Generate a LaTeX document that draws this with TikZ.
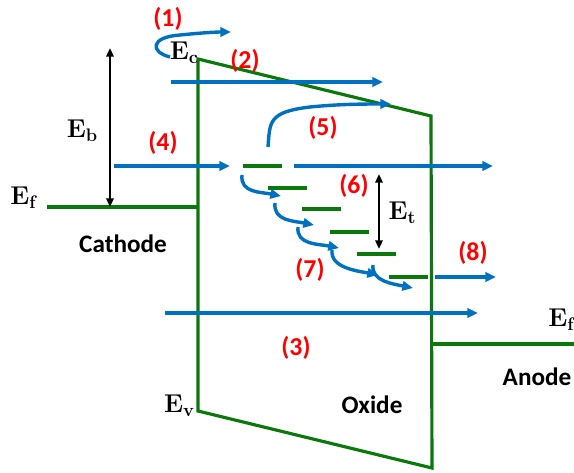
\documentclass[tikz,border=0pt]{standalone}
\usepackage{fontspec}
\newfontfamily\calfont{Carlito}
\usepackage{tikz}
\usetikzlibrary{arrows.meta,positioning}
\definecolor{bandgreen}{RGB}{10,120,10}
\definecolor{flowblue}{RGB}{0,112,192}
\definecolor{numred}{RGB}{255,0,0}
\newcommand{\lvl}[1]{E\raisebox{-3.4pt}{\fontsize{15.5}{18}\selectfont\bfseries #1}}

\begin{document}
\begin{tikzpicture}[
  x=0.03cm, y=-0.03cm,
  band/.style={draw=bandgreen, line width=2.7pt},
  trap/.style={draw=bandgreen, line width=2.7pt},
  flow/.style={draw=flowblue, line width=2.9pt, -{Triangle[length=3.2mm, width=2.8mm]}},
  gap/.style={draw=black, line width=2pt, {Triangle[length=2.6mm, width=2.2mm]}-{Triangle[length=2.6mm, width=2.2mm]}},
  num/.style={text=numred, inner sep=0pt, font=\calfont\fontsize{22}{26}\selectfont\bfseries},
  level/.style={inner sep=0pt, font=\fontsize{22}{26}\selectfont\bfseries},
  region/.style={inner sep=0pt, font=\calfont\fontsize{21.5}{26}\selectfont\bfseries},
]
\useasboundingbox (0,0) rectangle (574,473);

% Band edges
\coordinate (ec) at (198,59);
\coordinate (cr) at (431,116);
\coordinate (vr) at (432,468);
\coordinate (ev) at (198,411);
\coordinate (kf) at (47,207);
\coordinate (kj) at (198,207);
\coordinate (aj) at (431,344);
\coordinate (af) at (574,344);
\draw[band] (kf) -- (kj);
\draw[band] (ec) -- (cr) -- (vr) -- (ev) -- cycle;
\draw[band] (aj) -- (af);

% Trap levels
\coordinate (t1a) at (243,166); \coordinate (t1b) at (282,166);
\coordinate (t2a) at (268,188); \coordinate (t2b) at (307,188);
\coordinate (t3a) at (302,209); \coordinate (t3b) at (341,209);
\coordinate (t4a) at (330,232); \coordinate (t4b) at (369,232);
\coordinate (t5a) at (357,254); \coordinate (t5b) at (396,254);
\coordinate (t6a) at (389,277); \coordinate (t6b) at (428,277);
\draw[trap] (t1a) -- (t1b);
\draw[trap] (t2a) -- (t2b);
\draw[trap] (t3a) -- (t3b);
\draw[trap] (t4a) -- (t4b);
\draw[trap] (t5a) -- (t5b);
\draw[trap] (t6a) -- (t6b);

% Energy gaps
\coordinate (ebt) at (110,48);
\coordinate (ebb) at (110,207);
\draw[gap] (ebt) -- (ebb);
\coordinate (ett) at (379,174);
\coordinate (etb) at (379,249);
\draw[gap] (ett) -- (etb);

% Transport paths
\coordinate (p1s) at (170,57);
\coordinate (p1e) at (231,32);
\draw[flow] (p1s) .. controls (150,52) and (150,37) .. (180,35)
  .. controls (200,33) and (215,32) .. (p1e);
\coordinate (p2s) at (171,82);
\coordinate (p2e) at (383,82);
\draw[flow] (p2s) -- (p2e);
\coordinate (p3s) at (165,313);
\coordinate (p3e) at (478,313);
\draw[flow] (p3s) -- (p3e);
\coordinate (p4s) at (114,166);
\coordinate (p4e) at (230,166);
\draw[flow] (p4s) -- (p4e);
\coordinate (p4x) at (294,166);
\coordinate (p4y) at (493,166);
\draw[flow] (p4x) -- (p4y);
\coordinate (p5s) at (268,147);
\coordinate (p5e) at (391,104);
\draw[flow] (p5s) .. controls (270,122) and (268,112) .. (310,107)
  .. controls (340,104) and (365,104) .. (p5e);
\coordinate (p8s) at (435,277);
\coordinate (p8e) at (496,277);
\draw[flow] (p8s) -- (p8e);

% Hopping between traps
\coordinate (h1s) at (242,175); \coordinate (h1e) at (281,196);
\coordinate (h2s) at (275,203); \coordinate (h2e) at (314,225);
\coordinate (h3s) at (298,227); \coordinate (h3e) at (339,248);
\coordinate (h4s) at (332,250); \coordinate (h4e) at (378,275);
\coordinate (h5s) at (373,265); \coordinate (h5e) at (413,288);
\draw[flow] (h1s) .. controls +(-2,18) and +(-20,-4) .. (h1e);
\draw[flow] (h2s) .. controls +(-2,18) and +(-20,-4) .. (h2e);
\draw[flow] (h3s) .. controls +(-2,18) and +(-20,-4) .. (h3e);
\draw[flow] (h4s) .. controls +(-2,18) and +(-20,-4) .. (h4e);
\draw[flow] (h5s) .. controls +(-2,16) and +(-20,-4) .. (h5e);

% Mechanism numbers
\node[num] (n1) at (168,19) {(1)};
\node[num] (n2) at (245,61) {(2)};
\node[num] (n3) at (296,348) {(3)};
\node[num] (n4) at (163,143) {(4)};
\node[num] (n5) at (323,128) {(5)};
\node[num] (n6) at (354,186) {(6)};
\node[num] (n7) at (310,270) {(7)};
\node[num] (n8) at (473,253) {(8)};

% Levels
\node[level] (lec) at (184,53) {\lvl{c}};
\node[level] (leb) at (82,131) {\lvl{b}};
\node[level] (lef) at (23,198) {\lvl{f}};
\node[level] (let) at (402,213) {\lvl{t}};
\node[level] (lev) at (179,406) {\lvl{v}};
\node[level] (laf) at (561,320) {\lvl{f}};

% Regions
\node[region] (cathode) at (123,244) {Cathode};
\node[region] (oxide) at (372,405) {Oxide};
\node[region] (anode) at (537,377) {Anode};

\end{tikzpicture}
\end{document}
